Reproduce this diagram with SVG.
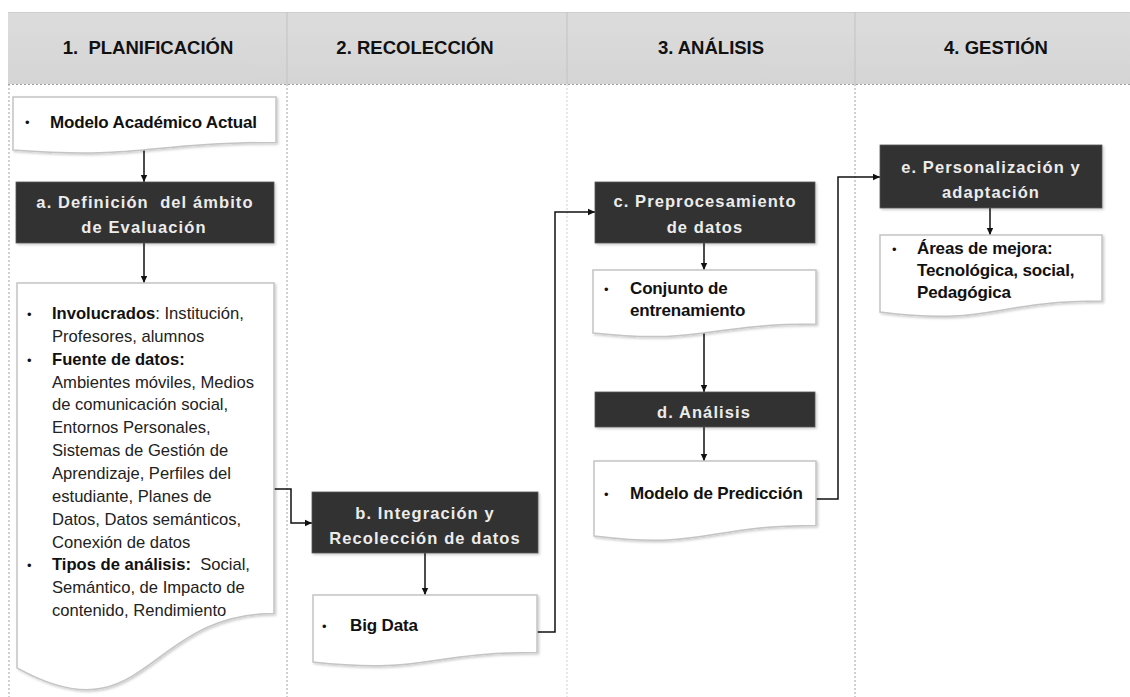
<svg xmlns="http://www.w3.org/2000/svg" width="1130" height="697" viewBox="0 0 1130 697">
  <defs>
    <style>
      .hdr { font-family: "Liberation Sans", Arial, sans-serif; font-weight: bold; font-size: 18.5px; fill: #111; text-anchor: middle; }
      .lane { stroke: #a0a0a0; stroke-width: 1; stroke-dasharray: 2 2; fill: none; }
      .lane-light { stroke: #d0d0d0; stroke-width: 1; stroke-dasharray: 2 2; fill: none; }
      .doc { fill: #ffffff; stroke: #c4c4c4; stroke-width: 1.5; }
      .step { fill: #303030; stroke: #5a5a5a; stroke-width: 0.8; }
      .step-t { font-family: "Liberation Sans", Arial, sans-serif; font-weight: bold; font-size: 16.5px; letter-spacing: 1.1px; fill: #ececec; text-anchor: middle; }
      .doc-t { font-family: "Liberation Sans", Arial, sans-serif; font-weight: bold; font-size: 17px; letter-spacing: -0.15px; fill: #111; }
      .body-t { font-family: "Liberation Sans", Arial, sans-serif; font-size: 16.6px; fill: #222; }
      .body-b { font-weight: bold; fill: #111; }
      .bullet { font-family: "Liberation Sans", Arial, sans-serif; font-size: 13px; fill: #111; }
      .conn { fill: none; stroke: #111; stroke-width: 1.5; }
    </style>
    <linearGradient id="hdrFill" x1="0" y1="0" x2="0" y2="1">
      <stop offset="0" stop-color="#dcdcdc"/>
      <stop offset="1" stop-color="#d5d5d5"/>
    </linearGradient>
    <filter id="shadow" x="-5%" y="-5%" width="115%" height="120%">
      <feDropShadow dx="1.5" dy="1.5" stdDeviation="1.2" flood-color="#000" flood-opacity="0.2"/>
    </filter>
    <marker id="arrow" markerUnits="userSpaceOnUse" markerWidth="8" markerHeight="8" refX="7" refY="4" orient="auto">
      <path d="M0,0.8 L7,4 L0,7.2 Z" fill="#111"/>
    </marker>
  </defs>

  <rect width="1130" height="697" fill="#ffffff"/>

  <!-- phase header band -->
  <g id="header">
    <rect x="8" y="12" width="1122" height="72" fill="url(#hdrFill)"/>
    <line x1="8" y1="12.5" x2="1130" y2="12.5" stroke="#cfcfcf" stroke-width="1"/>
    <line x1="287" y1="12" x2="287" y2="84" stroke="#c2c2c2" stroke-width="1"/>
    <line x1="567" y1="12" x2="567" y2="84" stroke="#c2c2c2" stroke-width="1"/>
    <line x1="855" y1="12" x2="855" y2="84" stroke="#c2c2c2" stroke-width="1"/>
    <text class="hdr" x="148" y="54" xml:space="preserve">1.  PLANIFICACIÓN</text>
    <text class="hdr" x="415" y="54">2. RECOLECCIÓN</text>
    <text class="hdr" x="711" y="54">3. ANÁLISIS</text>
    <text class="hdr" x="996" y="54">4. GESTIÓN</text>
  </g>

  <!-- swimlane borders -->
  <g id="lanes">
    <line class="lane" x1="8" y1="84.5" x2="1130" y2="84.5"/>
    <line class="lane" x1="9" y1="84" x2="9" y2="697"/>
    <line class="lane" x1="287" y1="84" x2="287" y2="697"/>
    <line class="lane-light" x1="567" y1="84" x2="567" y2="697"/>
    <line class="lane" x1="855" y1="84" x2="855" y2="697"/>
  </g>

  <!-- connectors -->
  <g id="connectors">
    <path class="conn" d="M144,150 V182" marker-end="url(#arrow)"/>
    <path class="conn" d="M144,243 V283" marker-end="url(#arrow)"/>
    <path class="conn" d="M274,489 H291 V523 H312" marker-end="url(#arrow)"/>
    <path class="conn" d="M425,553 V595" marker-end="url(#arrow)"/>
    <path class="conn" d="M537,632 H555 V212 H595" marker-end="url(#arrow)"/>
    <path class="conn" d="M704,243 V270" marker-end="url(#arrow)"/>
    <path class="conn" d="M704,333 V392" marker-end="url(#arrow)"/>
    <path class="conn" d="M704,427 V461" marker-end="url(#arrow)"/>
    <path class="conn" d="M816,499 H838 V177 H880" marker-end="url(#arrow)"/>
    <path class="conn" d="M990,208 V235" marker-end="url(#arrow)"/>
  </g>

  <!-- 1. Planificación -->
  <g id="modelo-academico">
    <path class="doc" filter="url(#shadow)" d="M13,97 H276 V142.5 C144.5,142.5 144.5,159.8 13,150 Z"/>
    <text class="bullet" x="25" y="127">•</text>
    <text class="doc-t" x="50" y="128">Modelo Académico Actual</text>
  </g>

  <g id="definicion-ambito">
    <rect class="step" filter="url(#shadow)" x="16" y="182" width="258" height="61"/>
    <text class="step-t" x="145" y="208" xml:space="preserve">a. Definición  del ámbito</text>
    <text class="step-t" x="144" y="233">de Evaluación</text>
  </g>

  <g id="ambito-detalle">
    <path class="doc" filter="url(#shadow)" d="M17,283 H274 V613.4 C145.5,613.4 145.5,739.3 17,667.8 Z"/>
    <text class="bullet" x="27" y="319">•</text>
    <text class="bullet" x="27" y="364.7">•</text>
    <text class="bullet" x="27" y="570.4">•</text>
    <text class="body-t" x="52" y="319"><tspan class="body-b">Involucrados</tspan>: Institución,</text>
    <text class="body-t" x="52" y="341.9">Profesores, alumnos</text>
    <text class="body-t body-b" x="52" y="364.7">Fuente de datos:</text>
    <text class="body-t" x="52" y="387.6">Ambientes móviles, Medios</text>
    <text class="body-t" x="52" y="410.4">de comunicación social,</text>
    <text class="body-t" x="52" y="433.3">Entornos Personales,</text>
    <text class="body-t" x="52" y="456.1">Sistemas de Gestión de</text>
    <text class="body-t" x="52" y="479">Aprendizaje, Perfiles del</text>
    <text class="body-t" x="52" y="501.8">estudiante, Planes de</text>
    <text class="body-t" x="52" y="524.7">Datos, Datos semánticos,</text>
    <text class="body-t" x="52" y="547.5">Conexión de datos</text>
    <text class="body-t" x="52" y="570.4" xml:space="preserve"><tspan class="body-b">Tipos de análisis:</tspan>  Social,</text>
    <text class="body-t" x="52" y="593.2">Semántico, de Impacto de</text>
    <text class="body-t" x="52" y="616.1">contenido, Rendimiento</text>
  </g>

  <!-- 2. Recolección -->
  <g id="integracion">
    <rect class="step" filter="url(#shadow)" x="312" y="492" width="226" height="61"/>
    <text class="step-t" x="425" y="519">b. Integración y</text>
    <text class="step-t" x="425" y="544">Recolección de datos</text>
  </g>

  <g id="big-data">
    <path class="doc" filter="url(#shadow)" d="M313,595 H537 V652.5 C425,652.5 425,674.4 313,662 Z"/>
    <text class="bullet" x="322" y="631">•</text>
    <text class="doc-t" x="350" y="631">Big Data</text>
  </g>

  <!-- 3. Análisis -->
  <g id="preprocesamiento">
    <rect class="step" filter="url(#shadow)" x="595" y="182" width="220" height="61"/>
    <text class="step-t" x="705" y="207">c. Preprocesamiento</text>
    <text class="step-t" x="705" y="233">de datos</text>
  </g>

  <g id="conjunto-entrenamiento">
    <path class="doc" filter="url(#shadow)" d="M593,270 H816 V324.1 C704.5,324.1 704.5,344.8 593,333 Z"/>
    <text class="bullet" x="604" y="294">•</text>
    <text class="doc-t" x="630" y="294">Conjunto de</text>
    <text class="doc-t" x="630" y="316">entrenamiento</text>
  </g>

  <g id="analisis">
    <rect class="step" filter="url(#shadow)" x="595" y="392" width="220" height="35"/>
    <text class="step-t" x="704" y="418">d. Análisis</text>
  </g>

  <g id="modelo-prediccion">
    <path class="doc" filter="url(#shadow)" d="M594,461 H816 V525.4 C705,525.4 705,549.9 594,536 Z"/>
    <text class="bullet" x="604" y="499">•</text>
    <text class="doc-t" x="630" y="499">Modelo de Predicción</text>
  </g>

  <!-- 4. Gestión -->
  <g id="personalizacion">
    <rect class="step" filter="url(#shadow)" x="880" y="145" width="222" height="63"/>
    <text class="step-t" x="991" y="173">e. Personalización y</text>
    <text class="step-t" x="991" y="198">adaptación</text>
  </g>

  <g id="areas-mejora">
    <path class="doc" filter="url(#shadow)" d="M880,235 H1102 V301.1 C991,301.1 991,326.3 880,312 Z"/>
    <text class="bullet" x="892" y="254">•</text>
    <text class="doc-t" x="917" y="254">Áreas de mejora:</text>
    <text class="doc-t" x="917" y="276">Tecnológica, social,</text>
    <text class="doc-t" x="917" y="298">Pedagógica</text>
  </g>
</svg>
